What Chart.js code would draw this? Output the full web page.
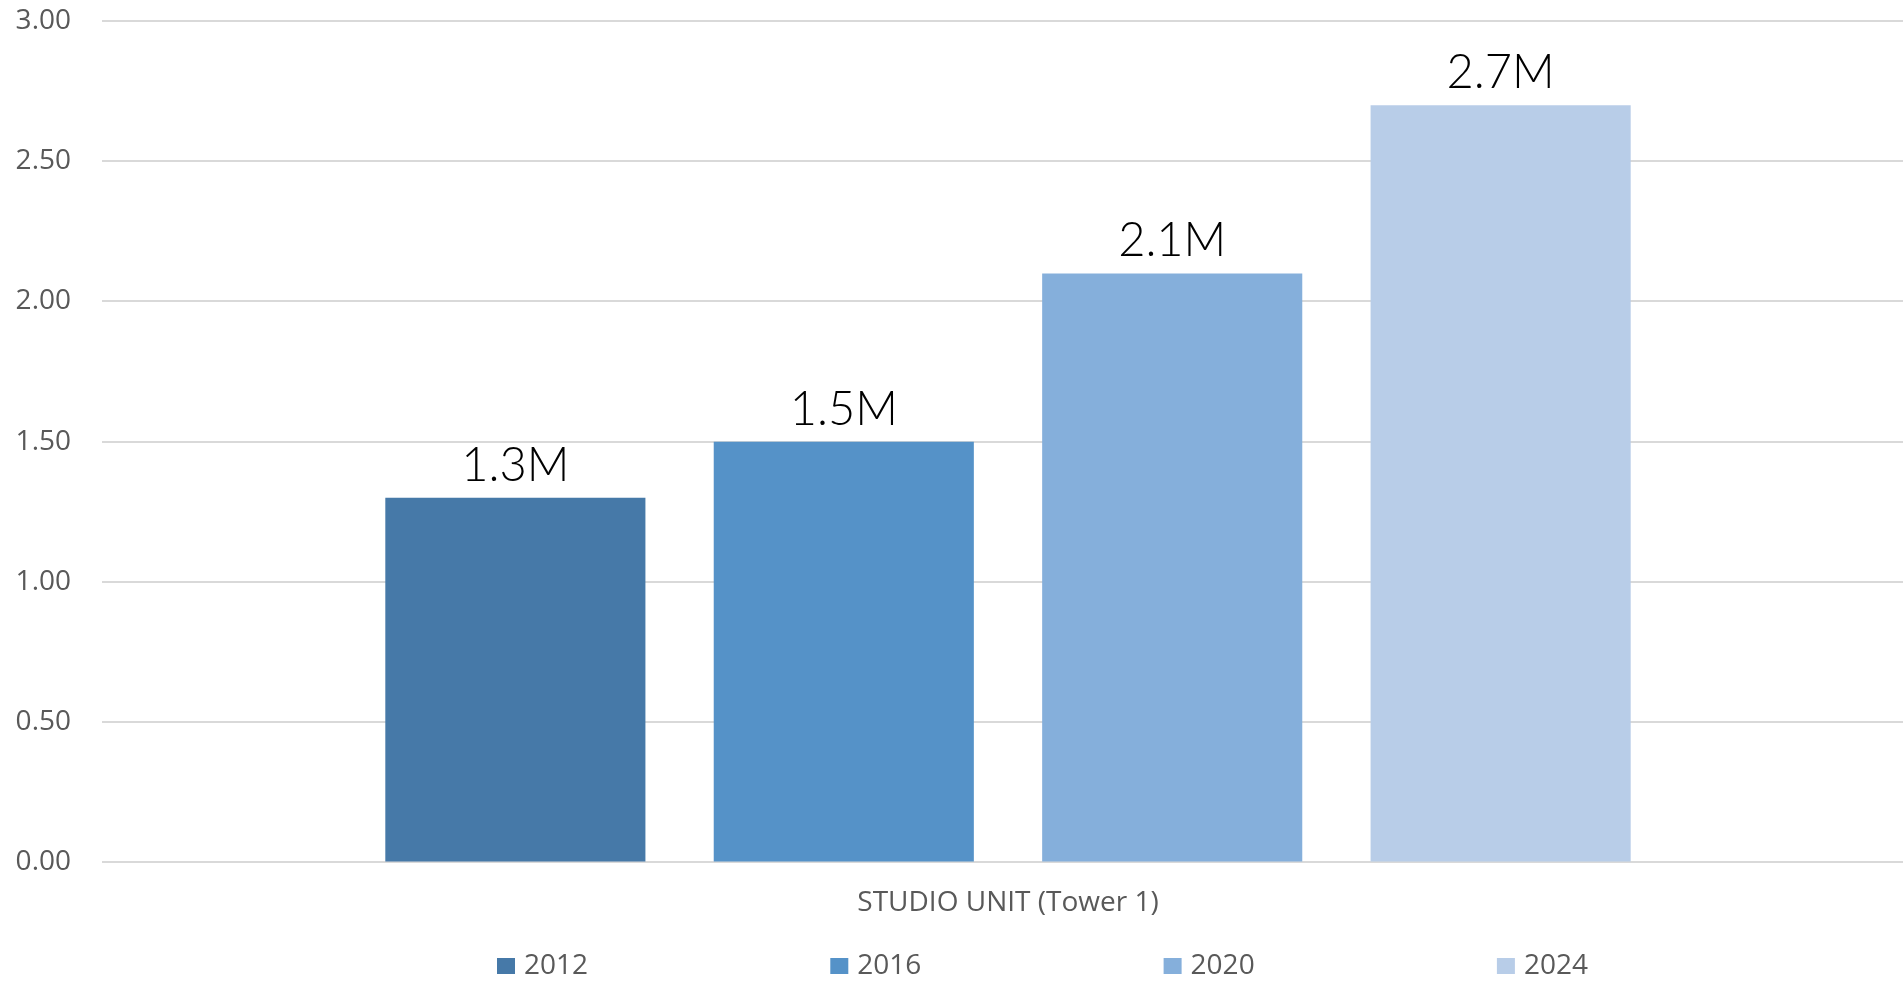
<!DOCTYPE html>
<html>
<head>
<meta charset="utf-8">
<title>STUDIO UNIT (Tower 1)</title>
<script src="https://cdn.jsdelivr.net/npm/chart.js@4/dist/chart.umd.min.js"></script>
<style>
    html, body { margin: 0; padding: 0; background: #ffffff; overflow: hidden; }
    #wrap { width: 1914px; height: 981px; }
</style>
</head>
<body>
<div id="wrap"><canvas id="chart" width="1914" height="981"></canvas></div>
<script>
// chart values
var categories = ["STUDIO UNIT (Tower 1)"];
var seriesNames = ["2012", "2016", "2020", "2024"];
var seriesValues = [1.3, 1.5, 2.1, 2.7];
var valueLabels = ["1.3M", "1.5M", "2.1M", "2.7M"];
var yTicks = [0, 0.5, 1, 1.5, 2, 2.5, 3];

var colors = ["#4679a8", "#5592c8", "#85afdb", "#b8cde8"];
var textGray = "#595959";

// value labels above each bar
var barLabels = {
    id: "barLabels",
    afterDatasetsDraw: function (chart) {
        var ctx = chart.ctx;
        ctx.save();
        ctx.font = "300 47px Lato";
        ctx.fillStyle = "#000000";
        ctx.textAlign = "center";
        ctx.textBaseline = "alphabetic";
        chart.data.datasets.forEach(function (ds, i) {
            var bar = chart.getDatasetMeta(i).data[0];
            ctx.fillText(valueLabels[i], bar.x, bar.y - 17);
        });
        ctx.restore();
    }
};

// legend spread across the bottom like the original
var wideLegend = {
    id: "wideLegend",
    afterDraw: function (chart) {
        var ctx = chart.ctx;
        var startX = 497;
        var step = 333.3;
        var y = 966;
        ctx.save();
        ctx.font = "28px 'Open Sans'";
        ctx.textBaseline = "middle";
        ctx.textAlign = "left";
        chart.data.datasets.forEach(function (ds, i) {
            var x = startX + i * step;
            ctx.fillStyle = ds.backgroundColor;
            ctx.fillRect(x, y - 8, 18, 16);
            ctx.fillStyle = textGray;
            ctx.fillText(ds.label, x + 27, y);
        });
        ctx.restore();
    }
};

var datasets = [];
for (var i = 0; i < seriesNames.length; i++) {
    datasets.push({
        label: seriesNames[i],
        data: [seriesValues[i]],
        backgroundColor: colors[i],
        borderWidth: 0,
        barPercentage: 0.792,
        categoryPercentage: 0.725
    });
}

var chart = new Chart(document.getElementById("chart"), {
    type: "bar",
    data: {
        labels: categories,
        datasets: datasets
    },
    options: {
        responsive: false,
        animation: false,
        layout: {
            padding: { top: 21, right: 0, bottom: 37, left: 0 }
        },
        plugins: {
            legend: { display: false },
            tooltip: { enabled: false }
        },
        scales: {
            x: {
                grid: { display: false, drawTicks: false },
                border: { display: false },
                ticks: {
                    color: textGray,
                    font: { family: "'Open Sans'", size: 28 },
                    padding: 24
                }
            },
            y: {
                min: yTicks[0],
                max: yTicks[yTicks.length - 1],
                afterBuildTicks: function (scale) {
                    scale.ticks = yTicks.map(function (v) { return { value: v }; });
                },
                afterFit: function (scale) {
                    scale.width = 102;
                },
                grid: {
                    color: "#d9d9d9",
                    lineWidth: 2,
                    drawTicks: true,
                    tickLength: 31,
                    tickColor: "rgba(0,0,0,0)"
                },
                border: { display: false },
                ticks: {
                    color: textGray,
                    font: { family: "'Open Sans'", size: 28 },
                    padding: 0,
                    callback: function (v) { return Number(v).toFixed(2); }
                }
            }
        }
    },
    plugins: [barLabels, wideLegend]
});
</script>
</body>
</html>
